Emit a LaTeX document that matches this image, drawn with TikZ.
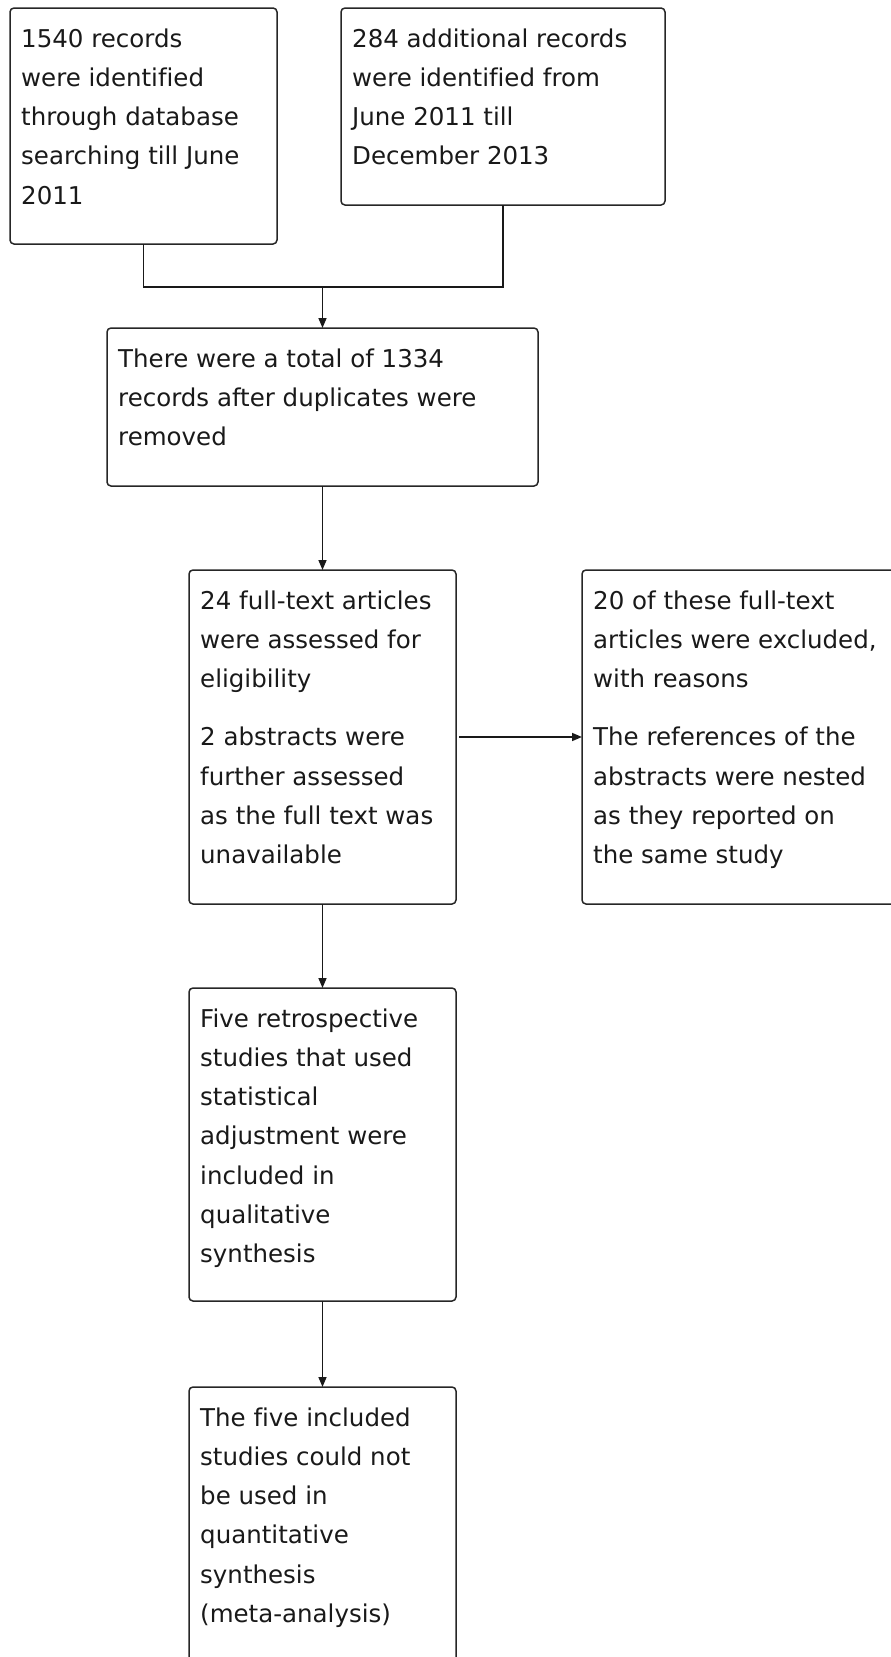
\documentclass[tikz,border=0pt]{standalone}
\usepackage{fontspec}
\setmainfont{DejaVu Sans}[Ligatures=NoCommon]
\usetikzlibrary{arrows.meta}
\tikzset{
  box/.style={draw=black!85, line width=1.5pt, rounded corners=4pt, inner sep=0pt, outer sep=0pt, anchor=north west},
  txt/.style={anchor=north west, inner sep=0pt, align=left, text=black!90,
              font=\fontsize{24.5}{39.2}\selectfont},
  conn/.style={draw=black!90, line width=1.6pt},
  arr/.style={conn, -{Triangle[length=10pt,width=8pt]}}
}
\newcommand{\fl}{\rule{0pt}{30pt}}
\begin{document}
\begin{tikzpicture}[x=1pt,y=-1pt]
\useasboundingbox (0,0) rectangle (891,1657);
% boxes
\node[box, minimum width=267pt, minimum height=236pt] (b1) at (10,8) {};
\node[box, minimum width=324pt, minimum height=197pt] (b2) at (341,8) {};
\node[box, minimum width=431pt, minimum height=158pt] (b3) at (107,328) {};
\node[box, minimum width=267pt, minimum height=334pt] (b4) at (189,570) {};
\node[box, minimum width=320pt, minimum height=334pt] (b5) at (582,570) {};
\node[box, minimum width=267pt, minimum height=313pt] (b6) at (189,988) {};
\node[box, minimum width=267pt, minimum height=280pt] (b7) at (189,1387) {};
% texts
\node[txt] (t1) at ([xshift=11pt,yshift=-9pt]b1.north west) {\fl 1540 records\\were identified\\through database\\searching till June\\2011};
\node[txt] (t2) at ([xshift=11pt,yshift=-9pt]b2.north west) {\fl 284 additional records\\were identified from\\June 2011 till\\December 2013};
\node[txt] (t3) at ([xshift=11pt,yshift=-9pt]b3.north west) {\fl There were a total of 1334\\records after duplicates were\\removed};
\node[txt] (t4) at ([xshift=11pt,yshift=-9pt]b4.north west) {\fl 24 full-text articles\\were assessed for\\eligibility\\[19pt]2 abstracts were\\further assessed\\as the full text was\\unavailable};
\node[txt] (t5) at ([xshift=11pt,yshift=-9pt]b5.north west) {\fl 20 of these full-text\\articles were excluded,\\with reasons\\[19pt]The references of the\\abstracts were nested\\as they reported on\\the same study};
\node[txt] (t6) at ([xshift=11pt,yshift=-9pt]b6.north west) {\fl Five retrospective\\studies that used\\statistical\\adjustment were\\included in\\qualitative\\synthesis};
\node[txt] (t7) at ([xshift=11pt,yshift=-9pt]b7.north west) {\fl The five included\\studies could not\\be used in\\quantitative\\synthesis\\(meta-analysis)};
% connectors
\coordinate (j) at (b3.north |- 0,287);
\draw[conn] (b1.south) |- (j) -| (b2.south);
\draw[arr] (j) -- (b3.north);
\draw[arr] (b3.south) -- (b4.north);
\draw[arr] ([xshift=3pt]b4.east) -- (b5.west |- b4.east);
\draw[arr] (b4.south) -- (b6.north);
\draw[arr] (b6.south) -- (b7.north);
\end{tikzpicture}
\end{document}
